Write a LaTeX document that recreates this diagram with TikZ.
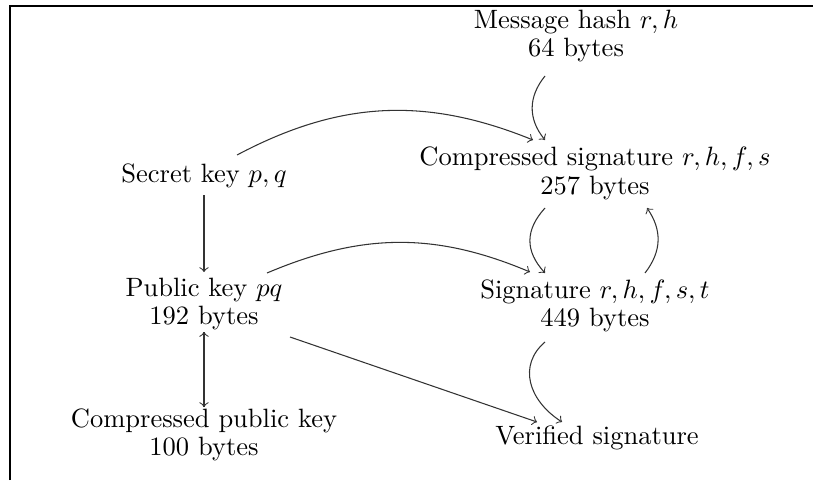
\documentclass[tikz,border=0pt]{standalone}
\usetikzlibrary{calc}
\begin{document}
\begin{tikzpicture}[x=0.37736pt,y=0.37736pt,
  lbl/.style={align=center,font=\fontsize{10pt}{10.7pt}\selectfont,inner sep=0pt},
  arr/.style={->,line width=0.4pt,draw=black!80},
  frameline/.style={line width=0.85pt}]
\useasboundingbox (0,0) rectangle (813,480);
% frame along the top and left edges
\draw[frameline] (10,0) -- (10,474) -- (813,474);

% quantities
\node[lbl] (msg)  at (576,444)   {Message hash $r,h$\\64 bytes};
\node[lbl] (csig) at (595,306.5) {Compressed signature $r,h,f,s$\\257 bytes};
\node[lbl] (sk)   at (204,304)   {Secret key $p,q$};
\node[lbl] (pub)  at (204,176)   {Public key $pq$\\192 bytes};
\node[lbl] (sig)  at (595,174)   {Signature $r,h,f,s,t$\\449 bytes};
\node[lbl] (cpub) at (204,45)    {Compressed public key\\100 bytes};
\node[lbl] (ver)  at (597,42)    {Verified signature};

% derivations
\draw[arr] ($(sk.center)+(0,-19)$) -- ($(pub.center)+(0,32)$);
\draw[arr] ($(pub.center)+(0,-28)$) -- ($(cpub.center)+(0,28)$);
\draw[arr] ($(cpub.center)+(0,28)$) -- ($(pub.center)+(0,-28)$);

\draw[arr] ($(sk.center)+(33,21)$)
  .. controls (339.5,379.3) and (425.5,383.6) .. ($(csig.center)+(-62,33.5)$);
\draw[arr] ($(msg.center)+(-31,-40)$)
  .. controls (528,383) and (528,361) .. ($(csig.center)+(-50,33.5)$);
\draw[arr] ($(csig.center)+(-50,-34.5)$)
  .. controls (525,250) and (525,229) .. ($(sig.center)+(-50,33)$);
\draw[arr] ($(sig.center)+(50,33)$)
  .. controls (662,229) and (662,250) .. ($(csig.center)+(52,-34.5)$);
\draw[arr] ($(pub.center)+(63,31)$)
  .. controls (361.8,247.2) and (435.2,248) .. ($(sig.center)+(-65,34)$);
\draw[arr] ($(sig.center)+(-50,-36)$)
  .. controls (518,115) and (528,80) .. ($(ver.center)+(-35,16)$);
\draw[arr] ($(pub.center)+(86,-33)$) -- ($(ver.center)+(-60,16)$);
\end{tikzpicture}
\end{document}
